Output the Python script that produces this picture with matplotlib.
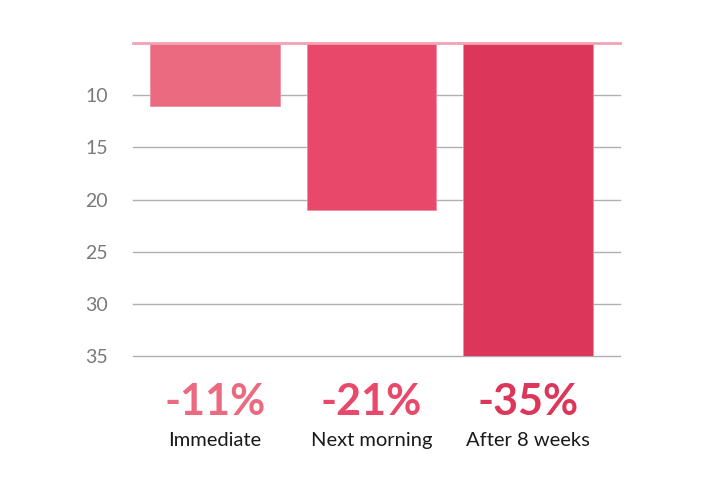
import matplotlib
matplotlib.use("Agg")
import matplotlib.pyplot as plt

# data
categories = ["Immediate", "Next morning", "After 8 weeks"]
values = [11, 21, 35]
pct_labels = ["-11%", "-21%", "-35%"]
colors = ["#EC6A80", "#E8496A", "#DC365A"]
y_ticks = [10, 15, 20, 25, 30, 35]
baseline = 5

plt.rcParams['font.family'] = ['Lato', 'DejaVu Sans']

fig = plt.figure(figsize=(7.2, 4.91), dpi=100)
ax = fig.add_axes([0.185, 0.275, 0.676, 0.637])

x = list(range(len(categories)))
heights = [v - baseline for v in values]
ax.bar(x, heights, bottom=baseline, width=0.83, color=colors,
       edgecolor="#F08FA0", linewidth=0.6, zorder=3)

ax.set_ylim(35, baseline)
ax.set_xlim(-0.524, 2.588)
ax.set_yticks(y_ticks)
ax.set_yticklabels([str(t) for t in y_ticks], fontsize=14, color="#7a7a7a")
ax.tick_params(axis="y", length=0, pad=18)
ax.set_xticks([])
for t in y_ticks:
    ax.axhline(t, color="#b0b0b0", linewidth=1.0, zorder=0, clip_on=False)
ax.axhline(baseline, color="#F2A3B2", linewidth=2, zorder=4, clip_on=False)
for s in ax.spines.values():
    s.set_visible(False)

# labels under the bars
for xi, p, c, cat in zip(x, pct_labels, colors, categories):
    ax.annotate(p, xy=(xi, 35), xycoords="data", xytext=(0, -33),
                textcoords="offset points", ha="center", va="center",
                fontsize=31, fontweight="bold", color=c)
    ax.annotate(cat, xy=(xi, 35), xycoords="data", xytext=(0, -61),
                textcoords="offset points", ha="center", va="center",
                fontsize=14.5, color="#1a1a1a")

fig.savefig("out.png", dpi=100, facecolor="white")
